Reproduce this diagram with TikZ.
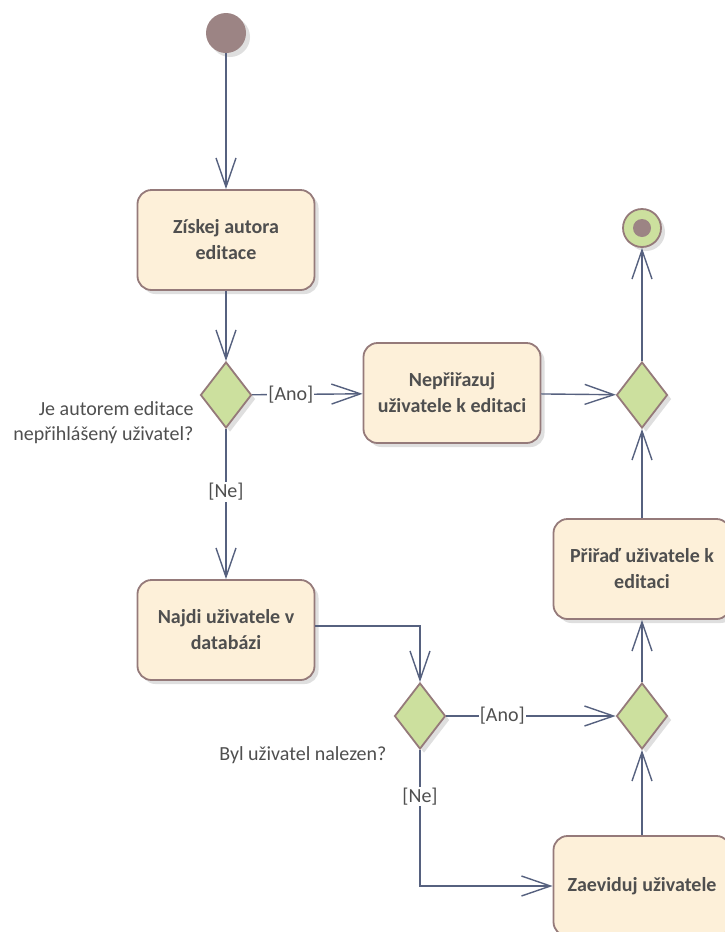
\documentclass[tikz,border=0pt]{standalone}
\usepackage{fontspec}
\setmainfont{Carlito}
\usetikzlibrary{shapes.geometric,shadows,arrows.meta}
\definecolor{boxfill}{HTML}{FDF0D9}
\definecolor{boxedge}{HTML}{957A7A}
\definecolor{decfill}{HTML}{CCE09E}
\definecolor{flowline}{HTML}{56617F}
\definecolor{dotfill}{HTML}{9C8484}
\definecolor{txtgray}{HTML}{4F4F4F}

\begin{document}
\begin{tikzpicture}
[
    x=1pt, y=-1pt,
    shade/.style={drop shadow={shadow xshift=4pt, shadow yshift=-4pt, fill=black!25}},
    action/.style={rectangle, rounded corners=14pt, draw=boxedge, line width=1.8pt, fill=boxfill,
        minimum width=177pt, minimum height=100pt, align=center, text=txtgray,
        font=\fontsize{20}{26}\selectfont\bfseries, shade},
    decision/.style={diamond, draw=boxedge, line width=1.8pt, fill=decfill,
        minimum width=51pt, minimum height=66pt, inner sep=0pt, shade},
    flow/.style={draw=flowline, line width=1.4pt, -{Straight Barb[length=29pt, width=20pt, line width=1.4pt]}},
    guard/.style={fill=white, text=txtgray, inner sep=1pt, font=\fontsize{20}{25}\selectfont},
    note/.style={text=txtgray, align=right, font=\fontsize{20}{25}\selectfont},
]
\useasboundingbox (0,0) rectangle (725,932);

% start / end
\node (start) [circle, fill=dotfill, minimum size=40pt, inner sep=0pt, shade] at (226,33) {};
\node (final) [circle, draw=boxedge, line width=1.8pt, fill=decfill, minimum size=38pt, inner sep=0pt, shade] at (642,228) {};
\node (finaldot) [circle, fill=dotfill, minimum size=18pt, inner sep=0pt] at (final) {};

% actions
\node (getauthor) [action] at (226,240) {Získej autora\\editace};
\node (noassign) [action] at (452,393) {Nepřiřazuj\\uživatele k editaci};
\node (finduser) [action] at (226,630) {Najdi uživatele v\\databázi};
\node (assign) [action] at (642,569) {Přiřaď uživatele k\\editaci};
\node (register) [action] at (642,886) {Zaeviduj uživatele};

% decisions
\node (anon) [decision] at (226,395) {};
\node (mergetop) [decision] at (642,395) {};
\node (found) [decision] at (420,716) {};
\node (mergelow) [decision] at (642,716) {};

\node (anonq) [note, anchor=east] at (197,423) {Je autorem editace\\nepřihlášený uživatel?};
\node (foundq) [note, anchor=east] at (390,755) {Byl uživatel nalezen?};

% flows
\draw [flow] (start) -- (getauthor);
\draw [flow] (getauthor) -- (anon);
\draw [flow] (anon) -- node[guard, pos=0.35] {[Ano]} (noassign);
\draw [flow] (anon) -- node[guard, pos=0.42] {[Ne]} (finduser);
\draw [flow] (noassign) -- (mergetop);
\draw [flow] (mergetop) -- (final);
\draw [flow] ([yshift=4pt]finduser.east) -| (found.north);
\draw [flow] (found) -- node[guard, pos=0.33] {[Ano]} (mergelow);
\draw [flow] (found.south) |- node[guard, pos=0.17] {[Ne]} (register.west);
\draw [flow] (register) -- (mergelow);
\draw [flow] (mergelow) -- (assign);
\draw [flow] (assign) -- (mergetop);
\end{tikzpicture}
\end{document}
